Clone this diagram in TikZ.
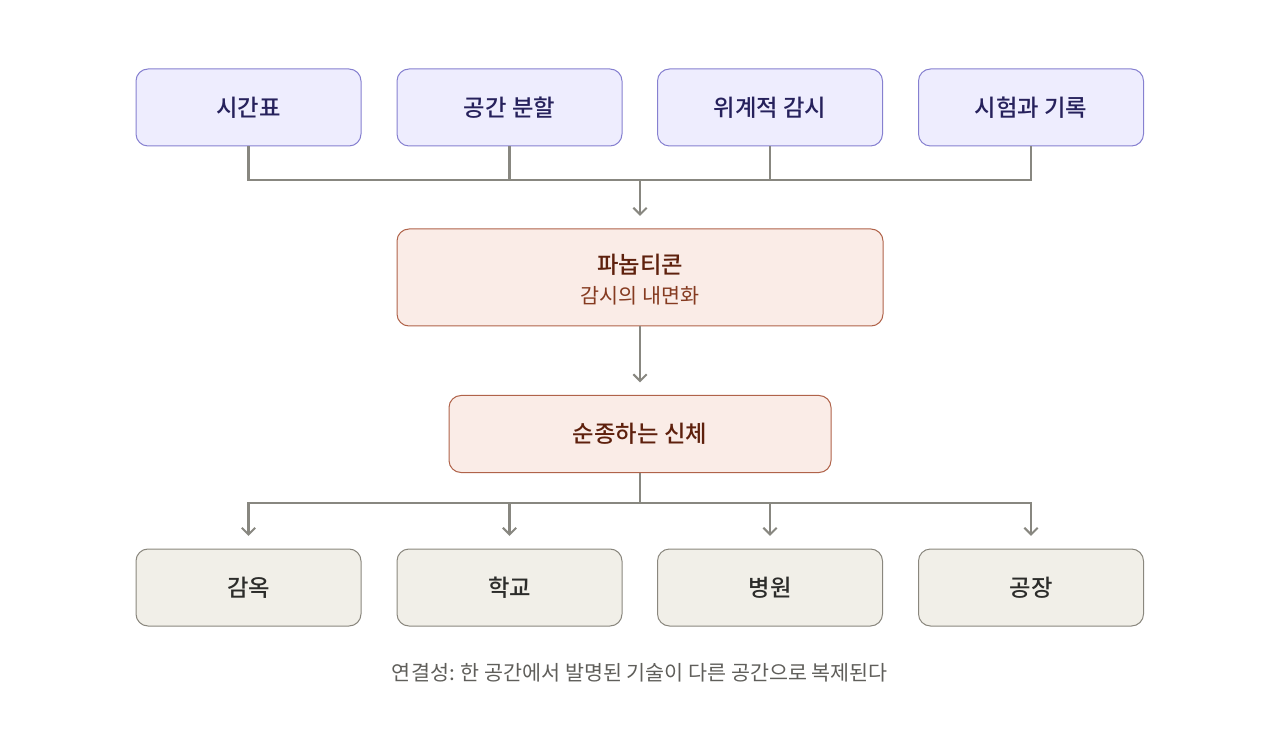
\documentclass[tikz,border=0pt]{standalone}
\usepackage{fontspec}
\setmainfont{Noto Sans CJK KR}
\newfontfamily\medfont{Noto Sans CJK KR Medium}
\usetikzlibrary{arrows.meta}
\definecolor{topfill}{HTML}{EEEDFE}
\definecolor{topdraw}{HTML}{8680D0}
\definecolor{toptext}{HTML}{26215C}
\definecolor{midfill}{HTML}{FAECE7}
\definecolor{middraw}{HTML}{B0634A}
\definecolor{midtext}{HTML}{5E200D}
\definecolor{midsub}{HTML}{853A20}
\definecolor{botfill}{HTML}{F1EFE8}
\definecolor{botdraw}{HTML}{8A877E}
\definecolor{bottext}{HTML}{2C2C2A}
\definecolor{conn}{HTML}{888780}
\definecolor{foot}{HTML}{5F5E5A}
\tikzset{
  box/.style={rounded corners=9pt, line width=0.75pt, minimum width=168.75pt, minimum height=57.75pt, inner sep=0pt, align=center, font=\medfont\fontsize{17.5}{20}\selectfont},
  topbox/.style={box, fill=topfill, draw=topdraw, text=toptext},
  midbox/.style={box, fill=midfill, draw=middraw, text=midtext},
  botbox/.style={box, fill=botfill, draw=botdraw, text=bottext},
  line/.style={draw=conn, line width=1.8pt},
  arr/.style={line, -{Straight Barb[length=5pt,width=10pt,line width=1.5pt]}, shorten >=9.5pt},
}
\begin{document}
\begin{tikzpicture}[x=0.75pt,y=-0.75pt]
\useasboundingbox (0,0) rectangle (1280,730);
\node[topbox] (t1) at (248.5,107.5) {시간표};
\node[topbox] (t2) at (509.5,107.5) {공간 분할};
\node[topbox] (t3) at (770,107.5) {위계적 감시};
\node[topbox] (t4) at (1031,107.5) {시험과 기록};
\node[midbox, minimum width=364.5pt, minimum height=72.75pt] (p) at (640,277.5) {};
\node[text=midtext, font=\medfont\fontsize{17.5}{20}\selectfont] (pt) at (640,265) {파놉티콘};
\node[text=midsub, font=\fontsize{15.5}{18}\selectfont] (ps) at (640,296) {감시의 내면화};
\node[midbox, minimum width=286.5pt] (s) at (640,434) {순종하는 신체};
\node[botbox] (b1) at (248.5,587.5) {감옥};
\node[botbox] (b2) at (509.5,587.5) {학교};
\node[botbox] (b3) at (770,587.5) {병원};
\node[botbox] (b4) at (1031,587.5) {공장};
\coordinate (jt) at (640,180);
\coordinate (jb) at (640,503);
\draw[line] (t1.south) |- (jt);
\draw[line] (t2.south) |- (jt);
\draw[line] (t3.south) |- (jt);
\draw[line] (t4.south) |- (jt);
\draw[arr] (jt) -- (p.north);
\draw[arr] (p.south) -- (s.north);
\draw[line] (s.south) -- (jb);
\draw[arr] (jb) -| (b1.north);
\draw[arr] (jb) -| (b2.north);
\draw[arr] (jb) -| (b3.north);
\draw[arr] (jb) -| (b4.north);
\node[text=foot, font=\fontsize{15.5}{18}\selectfont] (f) at (640,673) {연결성: 한 공간에서 발명된 기술이 다른 공간으로 복제된다};
\end{tikzpicture}
\end{document}
